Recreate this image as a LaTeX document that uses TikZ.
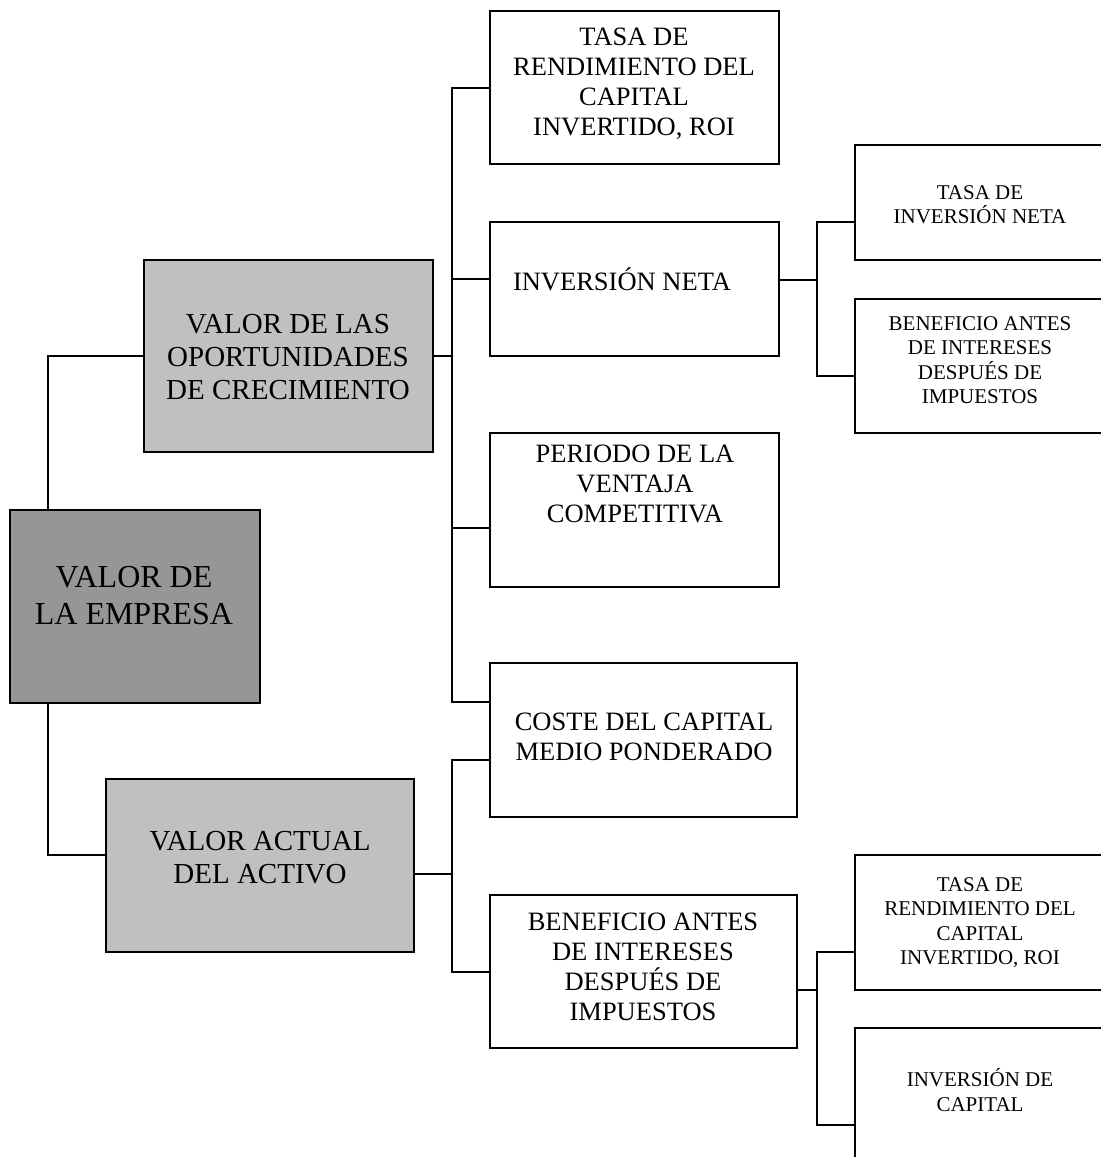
\documentclass[tikz,border=0pt]{standalone}
\usepackage{fontspec}
\setmainfont{Liberation Serif}
\definecolor{darkfill}{HTML}{969696}
\definecolor{lightfill}{HTML}{C0C0C0}
\begin{document}
\begin{tikzpicture}[x=0.5pt,y=-0.5pt,
  box/.style={draw=black, line width=1pt, inner sep=0pt, outer sep=0pt, fill=white},
  darkbox/.style={box, fill=darkfill},
  lightbox/.style={box, fill=lightfill},
  bigtxt/.style={align=center, inner sep=0pt, font=\fontsize{16}{18.5}\selectfont},
  midtxt/.style={align=center, inner sep=0pt, font=\fontsize{14.5}{16.5}\selectfont},
  coltxt/.style={align=center, inner sep=0pt, font=\fontsize{13.25}{15}\selectfont},
  smalltxt/.style={align=center, inner sep=0pt, font=\fontsize{10.5}{12.2}\selectfont},
  conn/.style={draw=black, line width=1pt}]
\useasboundingbox (0,0) rectangle (1101,1157);
\fill[white] (0,0) rectangle (1101,1157);

% boxes
\node[darkbox, minimum width=125pt, minimum height=96.5pt] (emp) at (135,606.5) {};
\node[lightbox, minimum width=144.5pt, minimum height=96pt] (opp) at (288.5,356) {};
\node[lightbox, minimum width=154pt, minimum height=86.5pt] (act) at (260,865.5) {};
\node[box, minimum width=144.5pt, minimum height=76.5pt] (roi) at (634.5,87.5) {};
\node[box, minimum width=144.5pt, minimum height=67pt] (inv) at (634.5,289) {};
\node[box, minimum width=144.5pt, minimum height=77pt] (per) at (634.5,510) {};
\node[box, minimum width=153.5pt, minimum height=77pt] (cos) at (643.5,740) {};
\node[box, minimum width=153.5pt, minimum height=76.5pt] (ben) at (643.5,971.5) {};
\node[box, minimum width=125.5pt, minimum height=57.5pt] (tin) at (980.5,202.5) {};
\node[box, minimum width=125.5pt, minimum height=67pt] (bsm) at (980.5,366) {};
\node[box, minimum width=125.5pt, minimum height=67.5pt] (trs) at (980.5,922.5) {};
\node[box, minimum width=125.5pt, minimum height=71pt] (ica) at (980.5,1099) {};

% texts
\node[bigtxt] (empT) at (134,595.5) {VALOR DE\\LA EMPRESA};
\node[midtxt] (oppT) at (288,357) {VALOR DE LAS\\OPORTUNIDADES\\DE CRECIMIENTO};
\node[midtxt] (actT) at (260,857.5) {VALOR ACTUAL\\DEL ACTIVO};
\node[coltxt] (roiT) at (634,83.5) {TASA DE\\RENDIMIENTO DEL\\CAPITAL\\INVERTIDO, ROI};
\node[coltxt] (invT) at (622,279) {INVERSIÓN NETA};
\node[coltxt] (perT) at (635,484) {PERIODO DE LA\\VENTAJA\\COMPETITIVA};
\node[coltxt] (cosT) at (644,737) {COSTE DEL CAPITAL\\MEDIO PONDERADO};
\node[coltxt] (benT) at (643,967) {BENEFICIO ANTES\\DE INTERESES\\DESPUÉS DE\\IMPUESTOS};
\node[smalltxt] (tinT) at (980,205) {TASA DE\\INVERSIÓN NETA};
\node[smalltxt] (bsmT) at (980,360) {BENEFICIO ANTES\\DE INTERESES\\DESPUÉS DE\\IMPUESTOS};
\node[smalltxt] (trsT) at (980,922.5) {TASA DE\\RENDIMIENTO DEL\\CAPITAL\\INVERTIDO, ROI};
\node[smalltxt] (icaT) at (980,1090) {INVERSIÓN DE\\CAPITAL};

% anchor coordinates for connectors
\coordinate (ub) at (452,0);
\coordinate (rb) at (817,0);
\coordinate (empN) at ([xshift=19pt]emp.north west);
\coordinate (empS) at ([xshift=19pt]emp.south west);
\coordinate (actW) at ([yshift=5.25pt]act.west);
\coordinate (actE) at ([yshift=-4.25pt]act.east);
\coordinate (invW) at ([yshift=5pt]inv.west);
\coordinate (invE) at ([yshift=4.5pt]inv.east);
\coordinate (perW) at ([yshift=-9pt]per.west);
\coordinate (cosA) at ([yshift=19pt]cos.west);
\coordinate (cosB) at ([yshift=-10pt]cos.west);
\coordinate (benE) at ([yshift=-9.25pt]ben.east);
\coordinate (tinW) at ([yshift=-9.75pt]tin.west);
\coordinate (bsmW) at ([yshift=-5pt]bsm.west);
\coordinate (trsW) at ([yshift=-14.75pt]trs.west);
\coordinate (icaW) at ([yshift=-13pt]ica.west);

% connectors
\draw[conn] (empN) |- (opp.west);
\draw[conn] (empS) |- (actW);
\draw[conn] (roi.west) -- (roi.west -| ub) -- (ub |- cosA) -- (cosA);
\draw[conn] (opp.east) -- (opp.east -| ub);
\draw[conn] (invW) -- (invW -| ub);
\draw[conn] (perW) -- (perW -| ub);
\draw[conn] (cosB) -- (cosB -| ub) -- (ub |- ben.west) -- (ben.west);
\draw[conn] (actE) -- (actE -| ub);
\draw[conn] (invE) -- (invE -| rb);
\draw[conn] (tinW) -- (tinW -| rb) -- (rb |- bsmW) -- (bsmW);
\draw[conn] (benE) -- (benE -| rb);
\draw[conn] (trsW) -- (trsW -| rb) -- (rb |- icaW) -- (icaW);
\end{tikzpicture}
\end{document}
